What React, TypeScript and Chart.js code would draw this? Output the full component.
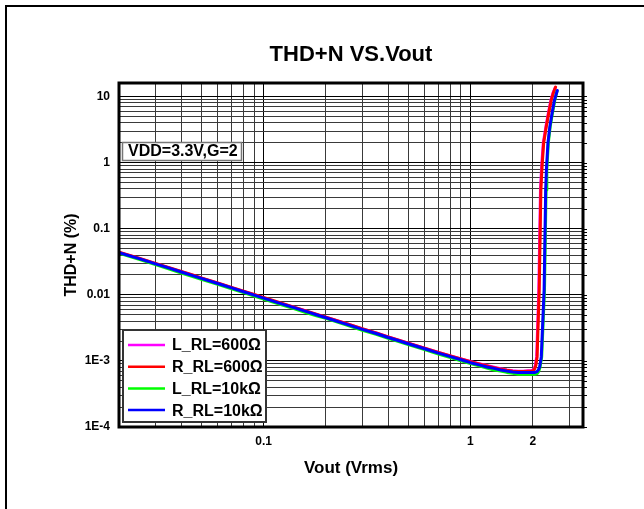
import React, { useEffect, useRef } from 'react';
import { Chart, registerables } from 'chart.js';

Chart.register(...registerables);

const FONT = "'Liberation Sans', Arial, Helvetica, sans-serif";

const TITLE = 'THD+N VS.Vout';
const X_TITLE = 'Vout (Vrms)';
const Y_TITLE = 'THD+N (%)';
const NOTE = 'VDD=3.3V,G=2';

const SERIES_NAMES = ['L_RL=600\u03A9', 'R_RL=600\u03A9', 'L_RL=10k\u03A9', 'R_RL=10k\u03A9'];
const SERIES_COLORS = ['#ff00ff', '#ff0000', '#00ff00', '#0000ff'];

const X_TICK_VALUES = [0.1, 1, 2];
const X_TICK_LABELS = ['0.1', '1', '2'];
const Y_TICK_VALUES = [0.0001, 0.001, 0.01, 0.1, 1, 10];
const Y_TICK_LABELS = ['1E-4', '1E-3', '0.01', '0.1', '1', '10'];

const X_MIN = 0.02;
const X_MAX = 3.5;
const Y_MIN = 0.0001;
const Y_MAX = 16;

// common low-level part (Vrms)
const X_LOW = [0.02, 0.025, 0.03, 0.035, 0.04, 0.045, 0.05, 0.06, 0.07, 0.08, 0.09, 0.1, 0.12, 0.14, 0.16, 0.18, 0.2, 0.25, 0.3, 0.35, 0.4, 0.45, 0.5, 0.6, 0.7, 0.8, 0.9, 1.0, 1.1, 1.2, 1.3, 1.4, 1.5, 1.6, 1.7, 1.8, 1.9];

const L600_LOW = [0.0438, 0.0355, 0.0296, 0.0255, 0.0224, 0.0199, 0.0179, 0.015, 0.0128, 0.0112, 0.01, 0.009, 0.0075, 0.0065, 0.0057, 0.005, 0.0046, 0.0037, 0.00305, 0.00264, 0.0023, 0.00205, 0.00185, 0.00156, 0.00134, 0.00119, 0.00107, 0.00098, 0.00091, 0.00085, 0.0008, 0.00076, 0.00073, 0.00071, 0.0007, 0.0007, 0.00071];
const R600_LOW = [0.0442, 0.0358, 0.0298, 0.0257, 0.0225, 0.0201, 0.018, 0.0151, 0.0129, 0.0113, 0.0101, 0.0091, 0.0076, 0.0065, 0.0057, 0.0051, 0.0046, 0.0037, 0.00306, 0.00265, 0.00231, 0.00206, 0.00186, 0.00156, 0.00134, 0.00119, 0.00107, 0.00097, 0.0009, 0.00084, 0.00079, 0.00075, 0.00072, 0.0007, 0.00069, 0.00069, 0.0007];
const L10K_LOW = [0.0425, 0.0343, 0.0286, 0.0246, 0.0214, 0.0191, 0.0172, 0.0144, 0.0123, 0.0108, 0.0096, 0.0086, 0.0072, 0.0062, 0.0054, 0.0048, 0.0044, 0.0035, 0.0029, 0.00252, 0.0022, 0.00196, 0.00176, 0.00148, 0.00127, 0.00112, 0.001, 0.00091, 0.00084, 0.00078, 0.00073, 0.0007, 0.00067, 0.00065, 0.00063, 0.00063, 0.00063];
const R10K_LOW = [0.0435, 0.0352, 0.0293, 0.0253, 0.0221, 0.0197, 0.0177, 0.0148, 0.0127, 0.0111, 0.0099, 0.0089, 0.0074, 0.0064, 0.0056, 0.005, 0.0045, 0.0036, 0.003, 0.0026, 0.00226, 0.00202, 0.00182, 0.00153, 0.00131, 0.00116, 0.00104, 0.00094, 0.00087, 0.00081, 0.00077, 0.00073, 0.0007, 0.00068, 0.00067, 0.00067, 0.00067];

// clipping region
const L600_TAIL_X = [1.96, 2.0, 2.03, 2.06, 2.09, 2.14, 2.18, 2.21, 2.25, 2.32, 2.38, 2.45, 2.51, 2.57];
const L600_TAIL_Y = [0.00071, 0.00072, 0.00076, 0.00086, 0.00115, 0.0118, 0.386, 0.9, 2.0, 3.6, 5.6, 8.9, 11.5, 13.6];
const R600_TAIL_X = [1.97, 2.01, 2.04, 2.07, 2.1, 2.15, 2.19, 2.22, 2.26, 2.33, 2.39, 2.46, 2.52, 2.58];
const R600_TAIL_Y = [0.0007, 0.00071, 0.00075, 0.00085, 0.00115, 0.0118, 0.386, 0.9, 2.0, 3.6, 5.6, 8.9, 11.5, 13.9];
const L10K_TAIL_X = [2.0, 2.06, 2.11, 2.14, 2.17, 2.21, 2.28, 2.32, 2.34, 2.38, 2.43, 2.49, 2.56, 2.62];
const L10K_TAIL_Y = [0.00063, 0.00063, 0.00065, 0.0007, 0.0008, 0.00115, 0.0118, 0.386, 0.8, 2.0, 3.5, 5.6, 8.9, 12.0];
const R10K_TAIL_X = [2.0, 2.05, 2.1, 2.13, 2.16, 2.2, 2.27, 2.31, 2.33, 2.37, 2.42, 2.48, 2.55, 2.63];
const R10K_TAIL_Y = [0.00067, 0.00067, 0.00069, 0.00073, 0.00081, 0.00115, 0.0118, 0.386, 0.8, 2.0, 3.5, 5.6, 8.9, 12.3];

function pts(xs: number[], ys: number[]) {
  return xs.map((x, i) => ({ x, y: ys[i] }));
}

function logGrid(minExp: number, maxExp: number, lo: number, hi: number) {
  const out: number[] = [];
  for (let k = minExp; k <= maxExp; k++) {
    for (let m = 1; m <= 9; m++) {
      const v = Number((m * Math.pow(10, k)).toPrecision(6));
      if (v >= lo - 1e-12 && v <= hi + 1e-12) out.push(v);
    }
  }
  return out;
}

function same(a: number, b: number) {
  return Math.abs(Math.log10(a) - Math.log10(b)) < 1e-6;
}

function isDecade(v: number) {
  const l = Math.log10(v);
  return Math.abs(l - Math.round(l)) < 1e-6;
}

const decor = {
  id: 'decor',
  afterDatasetsDraw(chart: any) {
    const { ctx, chartArea: a } = chart;
    const ys = chart.scales.y;
    ctx.save();
    // outward ticks on right side
    ctx.strokeStyle = '#000';
    ctx.lineWidth = 1;
    ys.ticks.forEach((t: any) => {
      const p = Math.round(ys.getPixelForValue(t.value)) + 0.5;
      ctx.beginPath();
      ctx.moveTo(a.right, p);
      ctx.lineTo(a.right + 4, p);
      ctx.stroke();
    });
    // plot frame
    ctx.lineWidth = 3;
    ctx.strokeStyle = '#000';
    ctx.strokeRect(a.left, a.top, a.right - a.left, a.bottom - a.top);

    // title
    ctx.fillStyle = '#000';
    ctx.font = `bold 22px ${FONT}`;
    ctx.textAlign = 'center';
    ctx.textBaseline = 'middle';
    ctx.fillText(TITLE, (a.left + a.right) / 2, 55);

    // note box
    ctx.fillStyle = '#fff';
    ctx.fillRect(122, 142, 120, 19);
    ctx.strokeStyle = '#777';
    ctx.lineWidth = 1.5;
    ctx.strokeRect(122.5, 142.5, 119, 18);
    ctx.fillStyle = '#000';
    ctx.font = `bold 16px ${FONT}`;
    ctx.textAlign = 'left';
    ctx.fillText(NOTE, 128, 152);

    // legend
    const lx = 123, ly = 330, lw = 143, lh = 92;
    ctx.fillStyle = '#fff';
    ctx.fillRect(lx, ly, lw, lh);
    ctx.strokeStyle = '#333';
    ctx.lineWidth = 2;
    ctx.strokeRect(lx, ly, lw, lh);
    SERIES_NAMES.forEach((name, i) => {
      const yy = 345 + i * 21.7;
      ctx.strokeStyle = SERIES_COLORS[i];
      ctx.lineWidth = 2.5;
      ctx.beginPath();
      ctx.moveTo(128, yy);
      ctx.lineTo(165, yy);
      ctx.stroke();
      ctx.fillStyle = '#000';
      ctx.font = `bold 16px ${FONT}`;
      ctx.textAlign = 'left';
      ctx.textBaseline = 'middle';
      ctx.fillText(name, 172, yy + 1);
    });

    // outer page frame (top and left)
    ctx.strokeStyle = '#000';
    ctx.lineWidth = 2;
    ctx.beginPath();
    ctx.moveTo(6, 509);
    ctx.lineTo(6, 6);
    ctx.lineTo(644, 6);
    ctx.stroke();
    ctx.restore();
  },
};

export default function App() {
  const ref = useRef<HTMLCanvasElement | null>(null);

  useEffect(() => {
    document.body.style.margin = '0';
    const canvas = ref.current;
    if (!canvas) return;
    const tails = [
      [L600_LOW, L600_TAIL_X, L600_TAIL_Y],
      [R600_LOW, R600_TAIL_X, R600_TAIL_Y],
      [L10K_LOW, L10K_TAIL_X, L10K_TAIL_Y],
      [R10K_LOW, R10K_TAIL_X, R10K_TAIL_Y],
    ] as number[][][];
    const orders = [3, 2, 1, 0];
    const datasets = SERIES_NAMES.map((name, i) => ({
      label: name,
      data: [...pts(X_LOW, tails[i][0]), ...pts(tails[i][1], tails[i][2])],
      borderColor: SERIES_COLORS[i],
      backgroundColor: SERIES_COLORS[i],
      borderWidth: 3,
      pointRadius: 0,
      tension: 0,
      fill: false,
      order: orders[i],
      borderJoinStyle: 'round' as const,
      borderCapStyle: 'round' as const,
    }));

    const xGrid = logGrid(-2, 0, X_MIN, X_MAX);
    const yGrid = logGrid(-4, 1, Y_MIN, Y_MAX);

    const chart = new Chart(canvas, {
      type: 'line',
      data: { datasets },
      plugins: [decor],
      options: {
        animation: false,
        responsive: false,
        devicePixelRatio: 1,
        layout: { padding: { left: 50, right: 61, top: 83, bottom: 22 } },
        plugins: {
          legend: { display: false },
          title: { display: false },
          tooltip: { enabled: false },
        },
        scales: {
          x: {
            type: 'logarithmic',
            min: X_MIN,
            max: X_MAX,
            afterBuildTicks: (s: any) => {
              s.ticks = xGrid.map((v) => ({ value: v }));
            },
            afterFit: (s: any) => {
              s.height = 60;
            },
            ticks: {
              autoSkip: false,
              maxRotation: 0,
              minRotation: 0,
              padding: 7,
              color: '#000',
              font: { family: FONT, size: 12, weight: 'bold' },
              callback: (v: any) => {
                const idx = X_TICK_VALUES.findIndex((t) => same(t, Number(v)));
                return idx >= 0 ? X_TICK_LABELS[idx] : '';
              },
            },
            grid: {
              drawTicks: false,
              lineWidth: 1,
              color: (c: any) => (c.tick && isDecade(c.tick.value) ? '#000' : '#3a3a3a'),
            },
            border: { display: false },
            title: {
              display: true,
              text: X_TITLE,
              color: '#000',
              font: { family: FONT, size: 17, weight: 'bold' },
              padding: { top: 0, bottom: 8 },
            },
          },
          y: {
            type: 'logarithmic',
            min: Y_MIN,
            max: Y_MAX,
            afterBuildTicks: (s: any) => {
              s.ticks = yGrid.map((v) => ({ value: v }));
            },
            afterFit: (s: any) => {
              s.width = 69;
            },
            ticks: {
              autoSkip: false,
              padding: 9,
              color: '#000',
              font: { family: FONT, size: 12, weight: 'bold' },
              callback: (v: any) => {
                const idx = Y_TICK_VALUES.findIndex((t) => same(t, Number(v)));
                return idx >= 0 ? Y_TICK_LABELS[idx] : '';
              },
            },
            grid: {
              drawTicks: false,
              lineWidth: 1,
              color: (c: any) => (c.tick && isDecade(c.tick.value) ? '#000' : '#3a3a3a'),
            },
            border: { display: false },
            title: {
              display: true,
              text: Y_TITLE,
              color: '#000',
              font: { family: FONT, size: 16, weight: 'bold' },
              padding: { top: 12, bottom: 0 },
            },
          },
        },
      } as any,
    });
    return () => chart.destroy();
  }, []);

  return (
    <canvas
      ref={ref}
      width={644}
      height={509}
      style={{ display: 'block', width: '644px', height: '509px' }}
    />
  );
}
